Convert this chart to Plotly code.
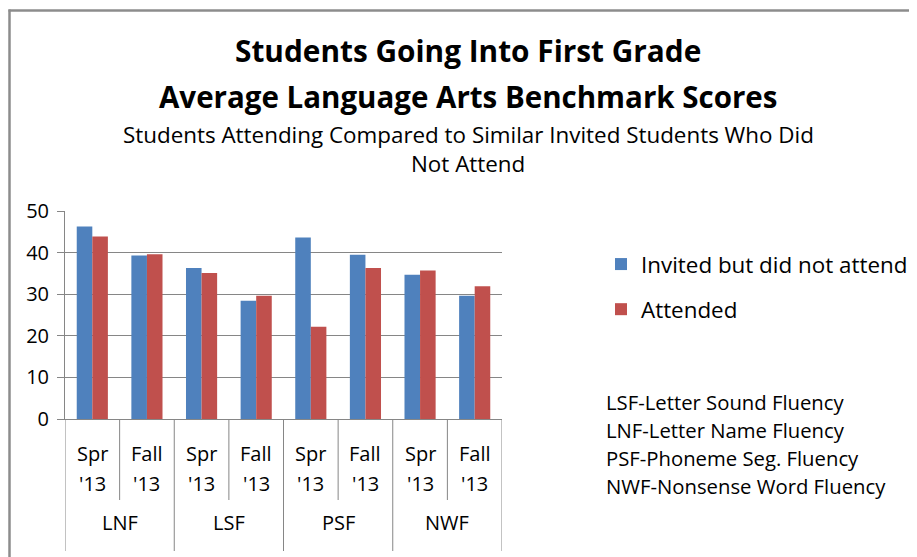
import plotly.graph_objects as go

groups = ["LNF", "LSF", "PSF", "NWF"]
terms = ["Spr", "Fall"]
years = ["'13", "'13"]
invited = [46.3, 39.3, 36.3, 28.4, 43.6, 39.5, 34.7, 29.6]
attended = [43.9, 39.6, 35.1, 29.6, 22.2, 36.3, 35.7, 31.9]
series_names = ["Invited but did not attend", "Attended"]
notes = ["LSF-Letter Sound Fluency", "LNF-Letter Name Fluency",
         "PSF-Phoneme Seg. Fluency", "NWF-Nonsense Word Fluency"]

OFF = 8  # page body margin
W, H = 917, 557 - OFF
# plot area in screen pixels
L, R, T, B = 65, 502, 211, 419
FONT = "Open Sans"
GRAY = "#868686"

def px_x(p):
    return (p - L) / (R - L)

def px_y(p):
    return (B - p) / (B - T)

n = len(groups) * len(terms)
xs = list(range(n))

fig = go.Figure()
fig.add_trace(go.Bar(x=xs, y=invited, name=series_names[0], marker_color="#4F81BD",
                     marker_line_width=0, legendgroup="a"))
fig.add_trace(go.Bar(x=xs, y=attended, name=series_names[1], marker_color="#C0504D",
                     marker_line_width=0, legendgroup="b"))

shapes = []
for i in range(n + 1):
    big = (i % len(terms) == 0)
    shapes.append(dict(type="line", xref="x", yref="paper", x0=i - 0.5, x1=i - 0.5,
                       y0=0, y1=px_y(551 if big else 500),
                       line=dict(color=GRAY, width=1)))
# chart border (left and top edges; the rest lies outside the picture)
border = dict(color="#8c8c8c", width=2.5)
shapes.append(dict(type="line", xref="paper", yref="paper",
                   x0=px_x(OFF + 1.5), x1=px_x(OFF + 1.5), y0=px_y(OFF + 1.5), y1=px_y(600),
                   line=border))
shapes.append(dict(type="line", xref="paper", yref="paper",
                   x0=px_x(OFF + 0.5), x1=px_x(960), y0=px_y(OFF + 2.5), y1=px_y(OFF + 2.5),
                   line=border))

annotations = []
tick_font = dict(family=FONT, size=20, color="black")
for i in xs:
    k = i % len(terms)
    annotations.append(dict(text=terms[k], xref="x", yref="paper", x=i, y=px_y(453),
                            showarrow=False, font=tick_font, xanchor="center", yanchor="middle"))
    annotations.append(dict(text=years[k], xref="x", yref="paper", x=i, y=px_y(483),
                            showarrow=False, font=tick_font, xanchor="center", yanchor="middle"))
for gi, g in enumerate(groups):
    annotations.append(dict(text=g, xref="x", yref="paper",
                            x=gi * len(terms) + (len(terms) - 1) / 2, y=px_y(522),
                            showarrow=False, font=tick_font,
                            xanchor="center", yanchor="middle"))
titles = [("<b>Students Going Into First Grade</b>", 50, 29.8),
          ("<b>Average Language Arts Benchmark Scores</b>", 97, 29.5),
          ("Students Attending Compared to Similar Invited Students Who Did", 134, 22.4),
          ("Not Attend", 163, 22.4)]
for txt, yy, sz in titles:
    annotations.append(dict(text=txt, xref="paper", yref="paper", x=px_x(468), y=px_y(yy),
                            showarrow=False, font=dict(family=FONT, size=sz, color="black"),
                            xanchor="center", yanchor="middle"))
for i, nt in enumerate(notes):
    annotations.append(dict(text=nt, xref="paper", yref="paper", x=px_x(604), y=px_y(402 + 28 * i),
                            showarrow=False, font=dict(family=FONT, size=20.3, color="black"),
                            xanchor="left", yanchor="middle"))

fig.update_layout(
    width=W, height=H,
    margin=dict(l=L - OFF, r=(W + OFF) - R, t=T - OFF, b=(H + OFF) - B, pad=0),
    paper_bgcolor="white", plot_bgcolor="white",
    barmode="group", bargap=0.43, bargroupgap=0,
    font=dict(family=FONT, color="black"),
    showlegend=True,
    legend=dict(x=px_x(601), y=px_y(243), xanchor="left", yanchor="top",
                font=dict(family=FONT, size=22.4, color="black"),
                tracegroupgap=13, itemwidth=30, bgcolor="rgba(0,0,0,0)"),
    xaxis=dict(range=[-0.5, n - 0.5], tickmode="array", tickvals=xs, showticklabels=False,
               showgrid=False, showline=True, linecolor=GRAY, linewidth=1,
               ticks="", zeroline=False, fixedrange=True),
    yaxis=dict(range=[0, 50], dtick=10, showgrid=True, gridcolor=GRAY, gridwidth=1,
               showline=True, linecolor=GRAY, linewidth=1, ticks="outside", ticklen=7,
               tickcolor=GRAY, tickfont=tick_font,
               zeroline=False, ticklabelstandoff=4),
    shapes=shapes, annotations=annotations,
)

fig.write_html("out.html")
